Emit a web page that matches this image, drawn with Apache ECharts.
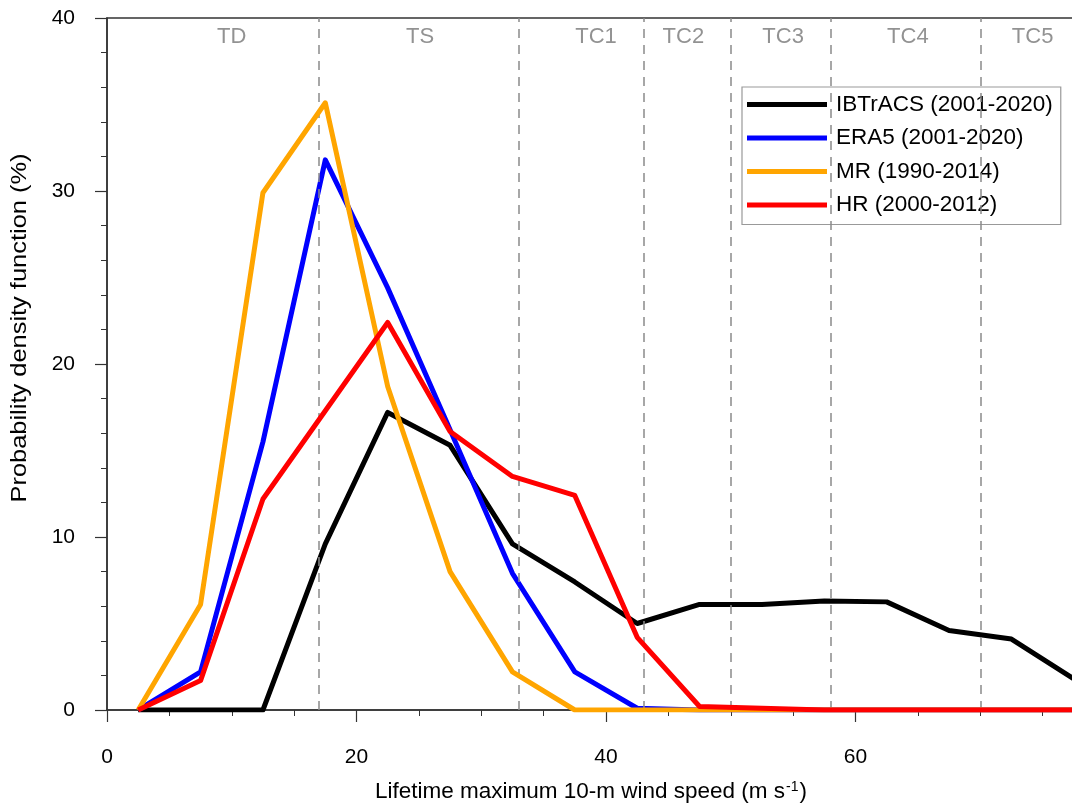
<!DOCTYPE html>
<html><head><meta charset="utf-8">
<script src="https://cdn.jsdelivr.net/npm/echarts@6/dist/echarts.min.js"></script>
<style>html,body{margin:0;padding:0;background:#fff;overflow:hidden;width:1072px;height:805px}#c{width:1105px;height:805px}</style>
</head><body><div id="c"></div>
<script>
const windSpeed = [2.5,7.5,12.5,17.5,22.5,27.5,32.5,37.5,42.5,47.5,52.5,57.5,62.5,67.5,72.5,77.5];
const ibtracs = [0,0,0,9.6,17.2,15.3,9.6,7.4,5.0,6.1,6.1,6.3,6.25,4.6,4.1,1.8];
const era5    = [0,2.2,15.5,31.8,24.4,16.2,7.9,2.2,0.1,0,0,0,0,0,0,0];
const mr      = [0,6.1,29.9,35.1,18.7,8.0,2.2,0,0,0,0,0,0,0,0,0];
const hr      = [0,1.7,12.2,17.3,22.4,16.1,13.5,12.4,4.2,0.2,0.1,0,0,0,0,0];
const seriesNames = ['IBTrACS (2001-2020)','ERA5 (2001-2020)','MR (1990-2014)','HR (2000-2012)'];
const seriesColors = ['#000000','#0000ff','#ffa500','#ff0000'];
const categoryBounds = [17,33,43,50,58,70];
const categoryLabels = ['TD','TS','TC1','TC2','TC3','TC4','TC5'];
const categoryLabelX = [10,25.1,39.2,46.2,54.2,64.2,74.2];
const categoryLabelY = 38.9;
const yTitle = 'Probability density function (%)';

const font = 'Liberation Sans, Arial, Helvetica, sans-serif';
const allData = [ibtracs, era5, mr, hr];
const series = allData.map((vals, i) => ({
  name: seriesNames[i], type: 'line', data: windSpeed.map((x, j) => [x, vals[j]]),
  symbol: 'none', lineStyle: {width: 5, color: seriesColors[i], join: 'round'},
  itemStyle: {color: seriesColors[i]}, z: 3 + i, animation: false
}));
series.push({
  type: 'line', data: [], silent: true, animation: false,
  markLine: {symbol: 'none', silent: true, animation: false,
    lineStyle: {type: [9, 7], color: '#8a8a8a', width: 1.5},
    label: {show: false},
    data: categoryBounds.map(v => ({xAxis: v}))}
});
series.push({
  type: 'scatter', symbolSize: 0, silent: true, animation: false,
  data: categoryLabels.map((t, i) => ({value: [categoryLabelX[i], categoryLabelY], name: t})),
  label: {show: true, position: 'inside', formatter: p => p.name, color: '#777', fontSize: 22, fontFamily: font}
});

const chart = echarts.init(document.getElementById('c'), null, {renderer: 'canvas'});
chart.setOption({
  backgroundColor: '#fff',
  animation: false,
  grid: {left: 107, right: 0, top: 18, bottom: 95, show: true, borderColor: '#333', borderWidth: 1.5,
         backgroundColor: 'transparent', containLabel: false, outerBoundsMode: 'none'},
  graphic: [{
    type: 'text', x: 20, y: 328, rotation: Math.PI / 2, scaleX: 1.13, scaleY: 1, silent: true,
    style: {text: yTitle, fontSize: 22.5, fontFamily: font, fill: '#000', align: 'center', verticalAlign: 'middle'}
  }],
  legend: {
    data: seriesNames, orient: 'vertical', left: 742, top: 87,
    icon: 'rect', itemWidth: 80, itemHeight: 5, itemGap: 10.5,
    backgroundColor: '#fff', borderColor: '#999', borderWidth: 1.2,
    padding: [6, 8, 8, 5], borderRadius: 0,
    textStyle: {fontSize: 22.5, fontFamily: font, color: '#000', padding: [0,0,0,4]}
  },
  xAxis: {
    type: 'value', min: 0, max: 80, interval: 20,
    name: '{a|Lifetime maximum 10-m wind speed (m s}{s|-1}{a|)}',
    nameLocation: 'middle', nameGap: 70,
    nameTextStyle: {padding: [0, 30, 0, 0], rich: {a: {fontSize: 22.5, fontFamily: font, color: '#000'}, s: {fontSize: 14, fontFamily: font, color: '#000', verticalAlign: 'top', padding: [0,1,10,1]}}},
    axisLine: {show: true, lineStyle: {color: '#333', width: 1.5}},
    axisTick: {show: true, length: 12, inside: false, lineStyle: {color: '#333', width: 1.2}},
    minorTick: {show: true, splitNumber: 4, length: 6, lineStyle: {color: '#333', width: 1}},
    axisLabel: {fontSize: 21, fontFamily: font, color: '#000', margin: 37},
    splitLine: {show: false}
  },
  yAxis: {
    type: 'value', min: 0, max: 40, interval: 10,
    axisLine: {show: true, lineStyle: {color: '#333', width: 1.5}},
    axisTick: {show: true, length: 12, inside: false, lineStyle: {color: '#333', width: 1.2}},
    minorTick: {show: true, splitNumber: 5, length: 6, lineStyle: {color: '#333', width: 1}},
    axisLabel: {fontSize: 21, fontFamily: font, color: '#000', margin: 32},
    splitLine: {show: false}
  },
  series: series
});
</script></body></html>
